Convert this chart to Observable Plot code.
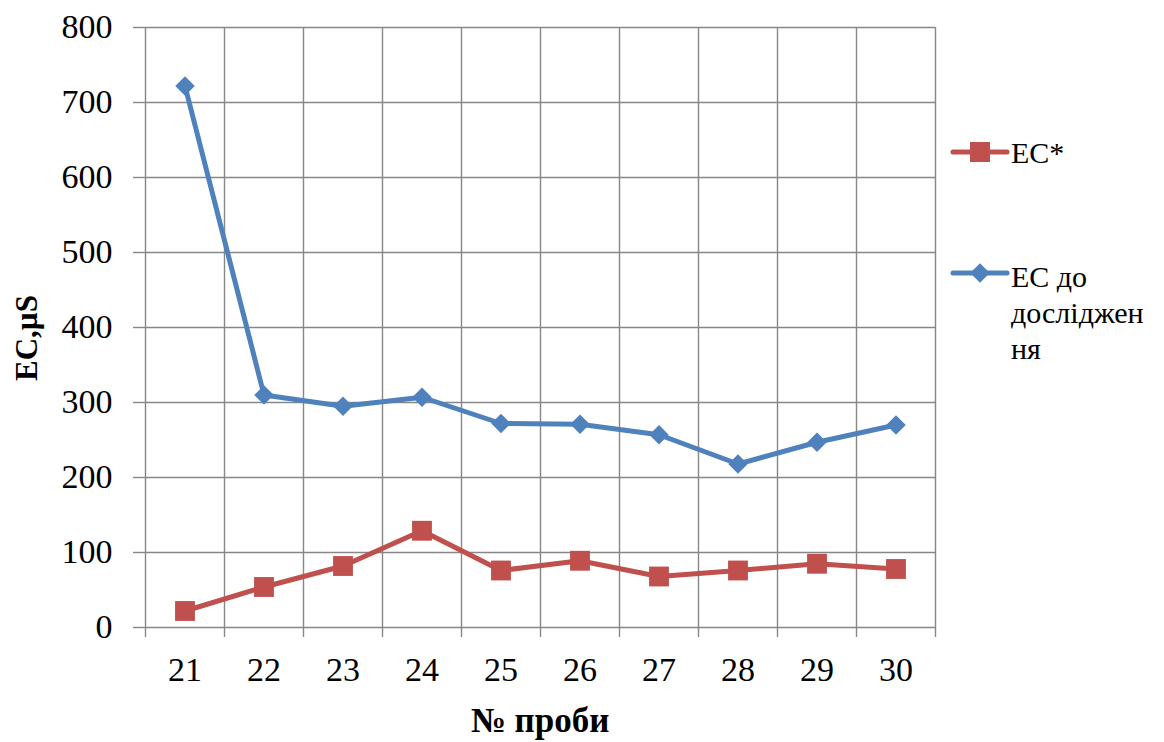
<!DOCTYPE html>
<html lang="uk">
<head>
<meta charset="utf-8">
<script src="https://cdn.jsdelivr.net/npm/d3@7"></script>
<script src="https://cdn.jsdelivr.net/npm/@observablehq/plot@0.6"></script>
<style>
  html, body { margin: 0; padding: 0; background: #fff; }
  #chart { position: relative; width: 1164px; height: 742px; }
</style>
</head>
<body>
<div id="chart"></div>
<script>
// Sample numbers and measured electrical conductivity (µS)
const probes = [21, 22, 23, 24, 25, 26, 27, 28, 29, 30];
const ecAfter = [22, 54, 82, 129, 76, 89, 68, 76, 85, 78];          // EC*
const ecBefore = [722, 310, 295, 307, 272, 271, 257, 218, 247, 270]; // EC до дослідження
const yTicks = [0, 100, 200, 300, 400, 500, 600, 700, 800];

const seriesColors = ["#C0504D", "#4F81BD"];

const rowsAfter = probes.map((p, i) => ({probe: p, value: ecAfter[i]}));
const rowsBefore = probes.map((p, i) => ({probe: p, value: ecBefore[i]}));

// category boundaries (gridlines and tick marks sit between samples)
const bounds = probes.map(p => p - 0.5).concat([probes[probes.length - 1] + 0.5]);

const gridColor = "#878787";
const serif = "Times New Roman, Liberation Serif, serif";

const chart = Plot.plot({
  width: 1164,
  height: 742,
  marginLeft: 145,
  marginRight: 229,
  marginTop: 27,
  marginBottom: 115,
  style: {fontSize: "34px", color: "#000", background: "#fff"},
  x: {type: "linear", domain: [bounds[0], bounds[bounds.length - 1]]},
  y: {domain: [0, 800]},
  marks: [
    Plot.ruleY(yTicks, {stroke: gridColor, strokeWidth: 1.4}),
    Plot.ruleX(bounds, {stroke: gridColor, strokeWidth: 1.4}),
    Plot.axisY({ticks: yTicks, tickSize: 12, tickPadding: 21, stroke: gridColor, strokeWidth: 1.4, label: null}),
    Plot.axisX({ticks: bounds, tickSize: 10, tickFormat: () => "", stroke: gridColor, strokeWidth: 1.4, label: null}),
    Plot.axisX({ticks: probes, tickSize: 0, tickPadding: 29, tickFormat: d => String(d), label: null}),
    Plot.line(rowsAfter, {x: "probe", y: "value", stroke: seriesColors[0], strokeWidth: 5}),
    Plot.dot(rowsAfter, {x: "probe", y: "value", symbol: "square", r: 11.2, fill: seriesColors[0], stroke: "none"}),
    Plot.line(rowsBefore, {x: "probe", y: "value", stroke: seriesColors[1], strokeWidth: 5}),
    Plot.dot(rowsBefore, {x: "probe", y: "value", symbol: "diamond2", r: 8.8, fill: seriesColors[1], stroke: "none"})
  ]
});

document.getElementById("chart").appendChild(chart);

const svg = d3.select(chart);
svg.attr("font-family", serif);

// tick labels: serif face, plain black
svg.selectAll("text")
  .attr("font-family", serif)
  .attr("fill", null);
svg.selectAll("[aria-label$='tick label']")
  .attr("font-variant", null)
  .attr("fill", null);

// axis titles
svg.append("text")
  .attr("transform", "translate(37,338) rotate(-90)")
  .attr("text-anchor", "middle")
  .attr("font-family", serif)
  .attr("font-weight", "bold")
  .attr("font-size", 31)
  .text("EC,µS");

svg.append("text")
  .attr("x", 540)
  .attr("y", 732)
  .attr("text-anchor", "middle")
  .attr("font-family", serif)
  .attr("font-weight", "bold")
  .attr("font-size", 35)
  .text("№ проби");

// legend on the right
const legendItems = [
  {y: 152, symbol: d3.symbolSquare, size: 400, lines: ["EC*"], baseline: 163},
  {y: 273, symbol: d3.symbolDiamond2, size: 245, lines: ["EC до", "дослiджен", "ня"], baseline: 287}
];
legendItems.forEach((item, i) => {
  svg.append("line")
    .attr("x1", 953).attr("x2", 1007)
    .attr("y1", item.y).attr("y2", item.y)
    .attr("stroke", seriesColors[i]).attr("stroke-width", 5).attr("stroke-linecap", "round");
  svg.append("path")
    .attr("transform", `translate(980,${item.y})`)
    .attr("d", d3.symbol(item.symbol, item.size)())
    .attr("fill", seriesColors[i]);
  item.lines.forEach((ln, k) => {
    svg.append("text")
      .attr("x", 1011)
      .attr("y", item.baseline + k * 36)
      .attr("text-anchor", "start")
      .attr("font-family", serif)
      .attr("font-size", 30)
      .text(ln);
  });
});
</script>
</body>
</html>
